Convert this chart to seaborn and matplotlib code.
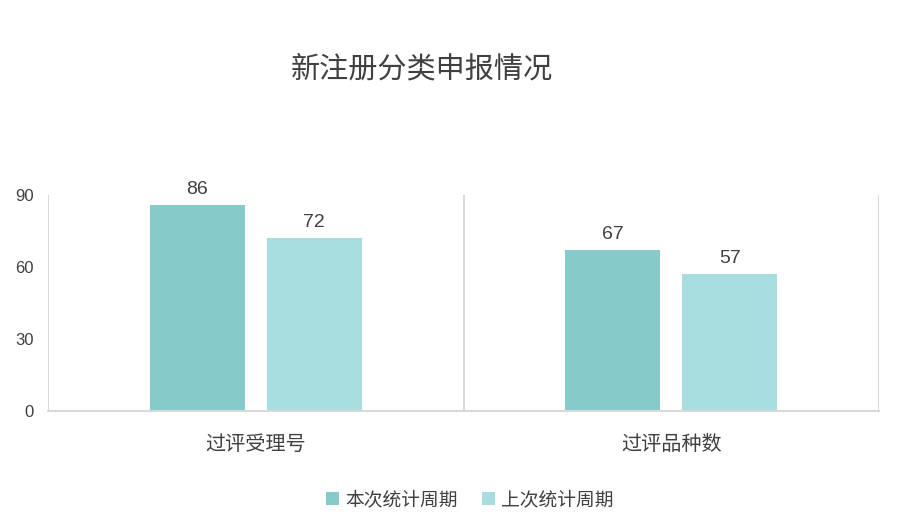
import numpy as np
import pandas as pd
import matplotlib
matplotlib.use("Agg")
import matplotlib.pyplot as plt
import seaborn as sns

categories = ["过评受理号", "过评品种数"]
series_names = ["本次统计周期", "上次统计周期"]
current_values = [86, 67]
previous_values = [72, 57]
y_ticks = [0, 30, 60, 90]

colors = ["#86CBCA", "#A8DDE0"]
text_color = "#404040"

df = pd.DataFrame({
    "category": categories * 2,
    "series": [series_names[0]] * 2 + [series_names[1]] * 2,
    "value": current_values + previous_values,
})

sns.set_style("white")
plt.rcParams["font.family"] = ["Liberation Sans", "Noto Sans CJK SC"]

fig = plt.figure(figsize=(9, 5.25), dpi=100)
ax = fig.add_axes([0.0533, 0.2171, 0.9234, 0.4115])

sns.barplot(
    data=df,
    x="category",
    y="value",
    hue="series",
    palette=colors,
    saturation=1,
    width=0.5625,
    gap=0.188,
    linewidth=0,
    ax=ax,
)

for container in ax.containers:
    ax.bar_label(container, padding=5, fontsize=14, color=text_color)

ax.set_ylim(0, 90)
ax.set_xlim(-0.5, 1.5)
ax.set_yticks(y_ticks)
ax.set_xlabel("")
ax.set_ylabel("")

# category separators
for xv in [-0.5, 0.5, 1.5]:
    ax.axvline(xv, color="#D9D9D9", linewidth=1.5, zorder=0)

for side in ["top", "right", "left"]:
    ax.spines[side].set_visible(False)
ax.spines["bottom"].set_color("#D9D9D9")
ax.spines["bottom"].set_linewidth(1.5)

ax.tick_params(axis="y", length=0, labelsize=12, labelcolor=text_color, pad=10)
ax.tick_params(axis="x", length=0, labelsize=14.5, labelcolor=text_color, pad=17)

fig.text(0.469, 0.868, "新注册分类申报情况", ha="center", va="center",
         fontsize=21, color=text_color)

handles, labels = ax.get_legend_handles_labels()
ax.legend_.remove()
fig.legend(handles, labels, loc="center", bbox_to_anchor=(0.522, 0.047),
           ncol=2, frameon=False, fontsize=13.5, handlelength=0.7,
           handleheight=0.7, handletextpad=0.3, columnspacing=1.3,
           labelcolor=text_color)

fig.savefig("out.png", dpi=100)
